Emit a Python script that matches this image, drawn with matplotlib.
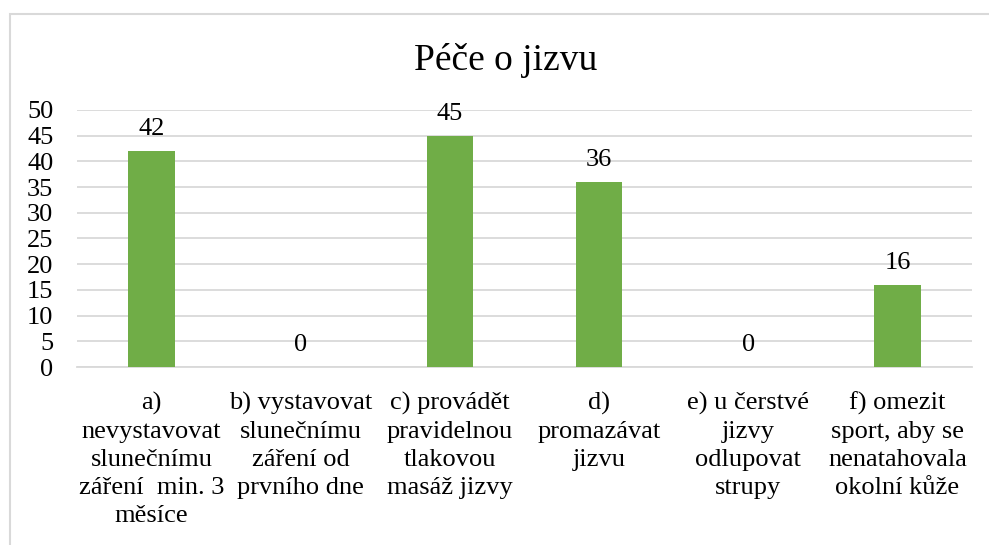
import numpy as np
import matplotlib.pyplot as plt
from matplotlib.patches import Rectangle

plt.rcParams['font.family'] = ['Liberation Serif', 'DejaVu Serif']

kategorie = [
    "a)\nnevystavovat\nslunečnímu\nzáření  min. 3\nměsíce",
    "b) vystavovat\nslunečnímu\nzáření od\nprvního dne",
    "c) provádět\npravidelnou\ntlakovou\nmasáž jizvy",
    "d)\npromazávat\njizvu",
    "e) u čerstvé\njizvy\nodlupovat\nstrupy",
    "f) omezit\nsport, aby se\nnenatahovala\nokolní kůže",
]
hodnoty = [42, 0, 45, 36, 0, 16]
y_ticks = [0, 5, 10, 15, 20, 25, 30, 35, 40, 45, 50]

fig = plt.figure(figsize=(9.89, 5.45), dpi=100)
ax = fig.add_axes([77 / 989, 1 - 367 / 545, (972 - 77) / 989, (367 - 110) / 545])

# ramecek grafu
fig.patches.append(Rectangle((10 / 989, -0.1), 1.2, 1.1 - 14 / 545,
                             transform=fig.transFigure, fill=False,
                             edgecolor='#D9D9D9', linewidth=1.5))

x = np.arange(len(kategorie))
bars = ax.bar(x, hodnoty, width=0.31, color='#70AD47', zorder=3)
for xi, v in zip(x, hodnoty):
    ax.annotate(str(v), (xi, v), xytext=(0, 8), textcoords='offset points',
                ha='center', va='bottom', fontsize=19)

ax.set_xlim(-0.5, len(kategorie) - 0.5)
ax.set_ylim(0, 50)
ax.set_yticks(y_ticks)
ax.tick_params(axis='y', length=0, labelsize=19, pad=17)
ax.set_xticks(x)
ax.set_xticklabels(kategorie, fontsize=19, linespacing=1.35)
ax.tick_params(axis='x', length=0, pad=18)
ax.grid(axis='y', color='#D9D9D9', linewidth=1.3, zorder=0)
for s in ['top', 'right', 'left']:
    ax.spines[s].set_visible(False)
ax.spines['bottom'].set_color('#D9D9D9')
ax.spines['bottom'].set_linewidth(1.3)

fig.text(506 / 989, 1 - 60 / 545, 'Péče o jizvu', ha='center', va='center', fontsize=27)

fig.savefig('out.png', dpi=100)
